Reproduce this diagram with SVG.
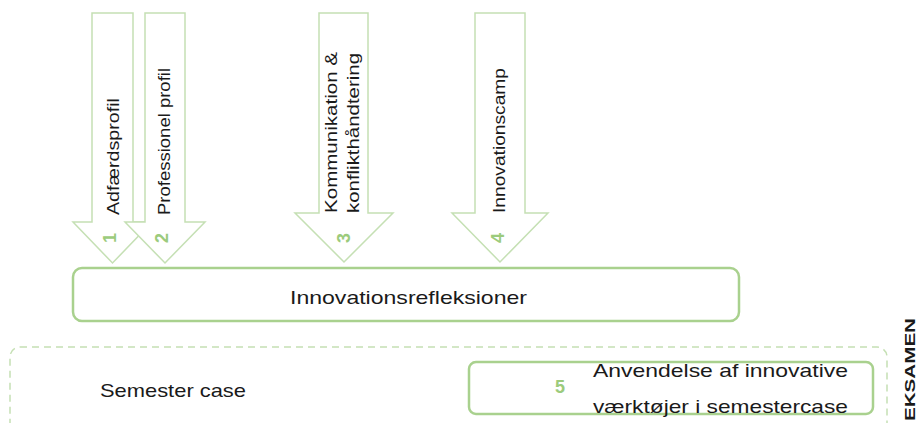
<svg xmlns="http://www.w3.org/2000/svg" width="917" height="423" viewBox="0 0 917 423">
<style>
.arrow{fill:#fff;stroke:#c5e0b4;stroke-width:1.5;stroke-linejoin:miter}
.box{fill:#fff;stroke:#a9d18e;stroke-width:2.5}
.dash{fill:none;stroke:#c5e0b4;stroke-width:1.5;stroke-dasharray:7 5}
.t{font-family:"Liberation Sans",Arial,sans-serif;fill:#1a1a1a}
.num{font-family:"Liberation Sans",Arial,sans-serif;font-weight:bold;fill:#9ccb7c;font-size:18px;text-anchor:middle}
</style>
<rect width="917" height="423" fill="#fff"/>
<g id="semester">
<rect class="dash" x="10" y="347" width="877" height="140" rx="10"/>
<text class="t" x="100" y="397" font-size="19" textLength="146" lengthAdjust="spacingAndGlyphs">Semester case</text>
</g>
<g id="connectors">
<g id="arrow1">
<path class="arrow" d="M92,13 H133 V222 H152 L112.5,263 L73,222 H92 Z"/>
<text class="t" font-size="17" transform="translate(119,215) rotate(-90)" textLength="117" lengthAdjust="spacingAndGlyphs">Adfærdsprofil</text>
<text class="num" transform="translate(116,238) rotate(-90)">1</text>
</g>
<g id="arrow2">
<path class="arrow" d="M145,13 H185 V222 H205 L165,263 L125,222 H145 Z"/>
<text class="t" font-size="17" transform="translate(170,215) rotate(-90)" textLength="147" lengthAdjust="spacingAndGlyphs">Professionel profil</text>
<text class="num" transform="translate(168,238) rotate(-90)">2</text>
</g>
<g id="arrow3">
<path class="arrow" d="M319,13 H368 V213 H393 L344,262 L295,213 H319 Z"/>
<text class="t" font-size="17" transform="translate(337,213) rotate(-90)" textLength="161" lengthAdjust="spacingAndGlyphs">Kommunikation &amp;</text>
<text class="t" font-size="17" transform="translate(359,213) rotate(-90)" textLength="160" lengthAdjust="spacingAndGlyphs">konflikthåndtering</text>
<text class="num" transform="translate(350,238) rotate(-90)">3</text>
</g>
<g id="arrow4">
<path class="arrow" d="M475,13 H525 V213 H548 L500,262 L452,213 H475 Z"/>
<text class="t" font-size="17" transform="translate(505,213) rotate(-90)" textLength="145" lengthAdjust="spacingAndGlyphs">Innovationscamp</text>
<text class="num" transform="translate(504,238) rotate(-90)">4</text>
</g>
</g>
<g id="refleksioner">
<rect class="box" x="73" y="268" width="666" height="53" rx="9"/>
<text class="t" x="290" y="304" font-size="19" textLength="237" lengthAdjust="spacingAndGlyphs">Innovationsrefleksioner</text>
</g>
<g id="anvendelse">
<rect class="box" x="469" y="362" width="404" height="52" rx="7" stroke-width="2"/>
<text class="num" x="560" y="393" font-size="19">5</text>
<text class="t" x="593" y="377" font-size="19" textLength="255" lengthAdjust="spacingAndGlyphs">Anvendelse af innovative</text>
<text class="t" x="593" y="413" font-size="19" textLength="255" lengthAdjust="spacingAndGlyphs">værktøjer i semestercase</text>
</g>
<g id="eksamen">
<text class="t" font-size="14" font-weight="bold" fill="#000" transform="translate(915,421) rotate(-90)" textLength="103" lengthAdjust="spacingAndGlyphs">EKSAMEN</text>
</g>
</svg>
